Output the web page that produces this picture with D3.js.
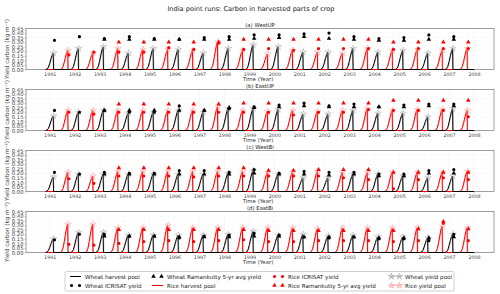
<!DOCTYPE html>
<html>
<head>
<meta charset="utf-8">
<script src="https://cdn.jsdelivr.net/npm/d3@7"></script>
<style>
  body { margin: 0; background: #fff; }
  svg { display: block; font-family: "DejaVu Sans", sans-serif; }
</style>
</head>
<body>
<script>
// Data

const panelTitles = ["(a)  WestUP", "(b)  EastUP", "(c)  WestBi", "(d)  EastBi"];
const seasons = [1991, 1992, 1993, 1994, 1995, 1996, 1997, 1998, 1999, 2000, 2001, 2002, 2003, 2004, 2005, 2006, 2007];
const yearTicks = [1991, 1992, 1993, 1994, 1995, 1996, 1997, 1998, 1999, 2000, 2001, 2002, 2003, 2004, 2005, 2006, 2007, 2008];
const yTicks = [0, 0.05, 0.1, 0.15, 0.2, 0.25, 0.3, 0.35, 0.4, 0.45];

// harvest pool peak per season, one row per panel
const wheatPool = [
  [0.18, 0.23, 0.25, 0.18, 0.23, 0.22, 0.18, 0.23, 0.27, 0.25, 0.19, 0.19, 0.23, 0.19, 0.21, 0.18, 0.23],
  [0.16, 0.20, 0.22, 0.19, 0.20, 0.22, 0.20, 0.24, 0.24, 0.23, 0.18, 0.18, 0.22, 0.19, 0.19, 0.15, 0.24],
  [0.16, 0.19, 0.19, 0.19, 0.19, 0.19, 0.19, 0.20, 0.23, 0.19, 0.15, 0.15, 0.19, 0.19, 0.17, 0.15, 0.17],
  [0.15, 0.22, 0.22, 0.19, 0.19, 0.19, 0.19, 0.20, 0.23, 0.19, 0.20, 0.18, 0.19, 0.17, 0.17, 0.16, 0.20]
];
const wheatIcrisat = [
  [0.32, 0.36, 0.34, 0.36, 0.34, 0.33, 0.35, 0.36, 0.38, 0.38, 0.39, 0.40, 0.36, 0.34, 0.35, 0.38, 0.36],
  [0.22, 0.20, 0.22, 0.20, 0.20, 0.27, 0.22, 0.24, 0.26, 0.28, 0.30, 0.27, 0.29, 0.26, 0.28, 0.29, 0.29],
  [0.21, 0.19, 0.21, 0.20, 0.20, 0.23, 0.23, 0.21, 0.24, 0.20, 0.22, 0.21, 0.21, 0.19, 0.19, 0.23, 0.24],
  [0.14, 0.20, 0.20, 0.18, 0.18, 0.16, 0.18, 0.19, 0.21, 0.19, 0.17, 0.16, 0.17, 0.15, 0.15, 0.13, 0.20]
];
const wheatRamankutty = [
  [null, null, 0.33, 0.33, 0.33, 0.33, 0.33, 0.33, 0.34, 0.35, 0.36, 0.34, 0.33, 0.32, 0.32, 0.33, 0.33],
  [null, null, 0.22, 0.22, 0.22, 0.22, 0.22, 0.25, 0.25, 0.26, 0.27, 0.26, 0.26, 0.26, 0.26, 0.27, 0.27],
  [null, null, 0.19, 0.19, 0.19, 0.19, 0.19, 0.19, 0.20, 0.19, 0.19, 0.18, 0.19, 0.17, 0.17, 0.20, 0.20],
  [null, null, 0.18, 0.18, 0.18, 0.17, 0.17, 0.17, 0.18, 0.18, 0.17, 0.17, 0.17, 0.16, 0.16, 0.16, 0.17]
];
const ricePool = [
  [0.21, 0.18, 0.23, 0.22, 0.22, 0.21, 0.30, 0.21, 0.17, 0.21, 0.19, 0.18, 0.23, 0.21, 0.22, 0.21, 0.23],
  [0.22, 0.22, 0.22, 0.22, 0.22, 0.22, 0.26, 0.22, 0.21, 0.22, 0.21, 0.22, 0.24, 0.22, 0.23, 0.23, 0.22],
  [0.21, 0.17, 0.22, 0.22, 0.22, 0.22, 0.22, 0.22, 0.21, 0.21, 0.22, 0.21, 0.21, 0.21, 0.21, 0.21, 0.22],
  [0.31, 0.31, 0.27, 0.27, 0.30, 0.27, 0.27, 0.27, 0.27, 0.27, 0.26, 0.27, 0.27, 0.27, 0.27, 0.29, 0.27]
];
const riceIcrisat = [
  [0.16, 0.19, 0.19, 0.19, 0.24, 0.22, 0.29, 0.22, 0.23, 0.21, 0.23, 0.23, 0.23, 0.22, 0.23, 0.23, 0.23],
  [0.20, 0.18, 0.20, 0.20, 0.20, 0.20, 0.20, 0.20, 0.20, 0.17, 0.20, 0.20, 0.23, 0.22, 0.22, 0.22, 0.15],
  [0.14, 0.09, 0.17, 0.17, 0.17, 0.16, 0.17, 0.17, 0.17, 0.17, 0.17, 0.15, 0.13, 0.03, 0.13, 0.15, 0.13],
  [0.09, 0.08, 0.10, 0.12, 0.13, 0.12, 0.13, 0.14, 0.12, 0.12, 0.13, 0.13, 0.13, 0.12, 0.13, 0.32, 0.13]
];
const riceRamankutty = [
  [null, null, 0.30, 0.30, 0.30, 0.30, 0.30, 0.33, 0.33, 0.33, 0.33, 0.33, 0.33, 0.30, 0.30, 0.30, 0.30],
  [null, null, 0.29, 0.29, 0.29, 0.29, 0.29, 0.30, 0.30, 0.30, 0.30, 0.30, 0.30, 0.33, 0.33, 0.33, 0.33],
  [null, null, 0.26, 0.26, 0.26, 0.26, 0.26, 0.26, 0.23, 0.23, 0.24, 0.24, 0.24, 0.21, 0.21, 0.21, 0.21],
  [null, null, 0.25, 0.25, 0.25, 0.25, 0.25, 0.25, 0.24, 0.24, 0.24, 0.24, 0.24, 0.24, 0.26, 0.34, 0.26]
];

// timing within a year (harvest), and growth curve shape before harvest
const wheatHarvest = 0.14;
const riceHarvest = 0.72;
const growthShape = [[-0.30, 0], [-0.24, 0.04], [-0.19, 0.15], [-0.14, 0.38], [-0.09, 0.65], [-0.05, 0.85], [-0.02, 0.96], [0, 1], [0.012, 0]];
const seriesStart = 1990.85;
const seriesEnd = 2008.0;

// Layout

const width = 500, height = 294;
const plotLeft = 26, plotRight = 494;
const panelTops = [28.5, 89.5, 150.5, 211.5];
const panelHeight = 41;

const svg = d3.select("body").append("svg")
  .attr("width", width)
  .attr("height", height)
  .attr("viewBox", `0 0 ${width} ${height}`);

const x = d3.scaleLinear().domain([1990.05, 2008.8]).range([plotLeft, plotRight]);

svg.append("text")
  .attr("x", 251).attr("y", 11)
  .attr("text-anchor", "middle")
  .attr("font-size", 6.6)
  .attr("fill", "#222")
  .text("India point runs: Carbon in harvested parts of crop");

const starSym = d3.symbol().type(d3.symbolStar).size(13);
const triSym = d3.symbol().type(d3.symbolTriangle).size(9);
const dotSym = d3.symbol().type(d3.symbolCircle).size(8);

const poolPoints = (peaks, offset) => {
  const pts = [[seriesStart, 0]];
  seasons.forEach((yr, i) => {
    growthShape.forEach(([dt, f]) => pts.push([yr + offset + dt, f * peaks[i]]));
  });
  pts.push([seriesEnd, 0]);
  return pts;
};

panelTops.forEach((top, p) => {
  const bottom = top + panelHeight;
  const y = d3.scaleLinear().domain([0, 0.45]).range([bottom, top]);
  const g = svg.append("g");

  // grid
  g.append("g").selectAll("line").data(yearTicks).join("line")
    .attr("x1", (d) => x(d)).attr("x2", (d) => x(d))
    .attr("y1", top).attr("y2", bottom)
    .attr("stroke", "#e4e4e4").attr("stroke-width", 0.5).attr("stroke-dasharray", "1,1");
  g.append("g").selectAll("line").data(yTicks).join("line")
    .attr("x1", plotLeft).attr("x2", plotRight)
    .attr("y1", (d) => y(d)).attr("y2", (d) => y(d))
    .attr("stroke", "#efefef").attr("stroke-width", 0.5).attr("stroke-dasharray", "1,1");

  // axes
  const yAxis = g.append("g")
    .attr("transform", `translate(${plotLeft},0)`)
    .call(d3.axisLeft(y).tickValues(yTicks).tickFormat(d3.format(".2f")).tickSize(1.5).tickPadding(1));
  yAxis.selectAll("text").attr("font-size", 5.3).attr("fill", "#444").attr("font-family", "DejaVu Sans");
  yAxis.selectAll("line").attr("stroke", "#888").attr("stroke-width", 0.5);
  yAxis.select(".domain").remove();

  const xAxis = g.append("g")
    .attr("transform", `translate(0,${bottom})`)
    .call(d3.axisBottom(x).tickValues(yearTicks).tickFormat(d3.format("d")).tickSize(1.5).tickPadding(1.2));
  xAxis.selectAll("text").attr("font-size", 4.8).attr("fill", "#444").attr("font-family", "DejaVu Sans");
  xAxis.selectAll("line").attr("stroke", "#888").attr("stroke-width", 0.5);
  xAxis.select(".domain").remove();

  // frame
  g.append("rect")
    .attr("x", plotLeft).attr("y", top)
    .attr("width", plotRight - plotLeft).attr("height", panelHeight)
    .attr("fill", "none").attr("stroke", "#777").attr("stroke-width", 0.7);

  // labels
  g.append("text")
    .attr("x", (plotLeft + plotRight) / 2).attr("y", top - 1.8)
    .attr("text-anchor", "middle").attr("font-size", 5.4).attr("fill", "#222")
    .text(panelTitles[p]);
  g.append("text")
    .attr("x", 258).attr("y", bottom + 11)
    .attr("text-anchor", "middle").attr("font-size", 5.4).attr("fill", "#333")
    .text("Time (Year)");
  g.append("text")
    .attr("transform", `translate(9,${top + panelHeight / 2}) rotate(-90)`)
    .attr("text-anchor", "middle").attr("font-size", 5.6).attr("fill", "#333")
    .text("Yield carbon (kg m\u207B\u00B2)");

  const line = d3.line().x((d) => x(d[0])).y((d) => y(d[1]));
  const plot = g.append("g");

  // yield pools (light lines)
  plot.append("path").datum(poolPoints(wheatPool[p], wheatHarvest + 0.02))
    .attr("d", line).attr("fill", "none").attr("stroke", "#999").attr("stroke-width", 0.8).attr("opacity", 0.7);
  plot.append("path").datum(poolPoints(ricePool[p], riceHarvest + 0.02))
    .attr("d", line).attr("fill", "none").attr("stroke", "#ff8c8c").attr("stroke-width", 0.8).attr("opacity", 0.8);

  // harvest pools
  plot.append("path").datum(poolPoints(ricePool[p], riceHarvest))
    .attr("d", line).attr("fill", "none").attr("stroke", "#ff0000").attr("stroke-width", 1);
  plot.append("path").datum(poolPoints(wheatPool[p], wheatHarvest))
    .attr("d", line).attr("fill", "none").attr("stroke", "#000").attr("stroke-width", 1);

  // yield pool stars
  plot.append("g").selectAll("path").data(seasons).join("path")
    .attr("transform", (yr, i) => `translate(${x(yr + wheatHarvest + 0.02)},${y(wheatPool[p][i])})`)
    .attr("d", starSym).attr("fill", "#ccc").attr("fill-opacity", 0.3).attr("stroke", "#999").attr("stroke-width", 0.4);
  plot.append("g").selectAll("path").data(seasons).join("path")
    .attr("transform", (yr, i) => `translate(${x(yr + riceHarvest + 0.02)},${y(ricePool[p][i])})`)
    .attr("d", starSym).attr("fill", "#ffc0c0").attr("fill-opacity", 0.3).attr("stroke", "#ff9090").attr("stroke-width", 0.4);

  // observations
  const markers = [
    { data: wheatRamankutty[p], off: wheatHarvest, color: "#000", sym: triSym },
    { data: wheatIcrisat[p], off: wheatHarvest, color: "#000", sym: dotSym },
    { data: riceRamankutty[p], off: riceHarvest, color: "#ff0000", sym: triSym },
    { data: riceIcrisat[p], off: riceHarvest, color: "#ff0000", sym: dotSym }
  ];
  markers.forEach((m) => {
    const pts = seasons.map((yr, i) => [yr + m.off + 0.05, m.data[i]]).filter((d) => d[1] != null);
    plot.append("g").selectAll("path").data(pts).join("path")
      .attr("transform", (d) => `translate(${x(d[0])},${y(d[1])})`)
      .attr("d", m.sym)
      .attr("fill", m.color);
  });
});

// Legend

const legend = svg.append("g");
legend.append("rect")
  .attr("x", 65).attr("y", 271.5).attr("width", 389).attr("height", 19.5)
  .attr("rx", 1.5).attr("fill", "#fff").attr("stroke", "#bbb").attr("stroke-width", 0.7);

const legendItems = [
  { label: "Wheat harvest pool", kind: "line", color: "#000", col: 0, row: 0 },
  { label: "Wheat ICRISAT yield", kind: "circle", color: "#000", col: 0, row: 1 },
  { label: "Wheat Ramankutty 5-yr avg yield", kind: "tri", color: "#000", col: 1, row: 0 },
  { label: "Rice harvest pool", kind: "line", color: "#ff0000", col: 1, row: 1 },
  { label: "Rice ICRISAT yield", kind: "circle", color: "#ff0000", col: 2, row: 0 },
  { label: "Rice Ramankutty 5-yr avg yield", kind: "tri", color: "#ff0000", col: 2, row: 1 },
  { label: "Wheat yield pool", kind: "star", color: "#888", col: 3, row: 0 },
  { label: "Rice yield pool", kind: "star", color: "#ff8080", col: 3, row: 1 }
];
const colX = [70, 152, 273, 390];
const rowY = [276.5, 285.5];

legendItems.forEach((it) => {
  const x0 = colX[it.col], yy = rowY[it.row];
  const item = legend.append("g");
  if (it.kind === "line") {
    item.append("line").attr("x1", x0).attr("x2", x0 + 11).attr("y1", yy).attr("y2", yy)
      .attr("stroke", it.color).attr("stroke-width", 1);
  } else {
    if (it.kind === "star") {
      item.append("line").attr("x1", x0).attr("x2", x0 + 11).attr("y1", yy).attr("y2", yy)
        .attr("stroke", it.color).attr("stroke-width", 0.6).attr("opacity", 0.7);
    }
    const sym = it.kind === "tri" ? triSym : it.kind === "star" ? starSym : dotSym;
    [x0 + 1.5, x0 + 9.5].forEach((mx) => {
      const s = item.append("path").attr("transform", `translate(${mx},${yy})`).attr("d", sym);
      if (it.kind === "star") {
        s.attr("fill", it.color).attr("fill-opacity", 0.3).attr("stroke", it.color).attr("stroke-width", 0.4);
      } else {
        s.attr("fill", it.color);
      }
    });
  }
  item.append("text").attr("x", x0 + 15).attr("y", yy + 2)
    .attr("font-size", 5.6).attr("fill", "#222").text(it.label);
});
</script>
</body>
</html>
